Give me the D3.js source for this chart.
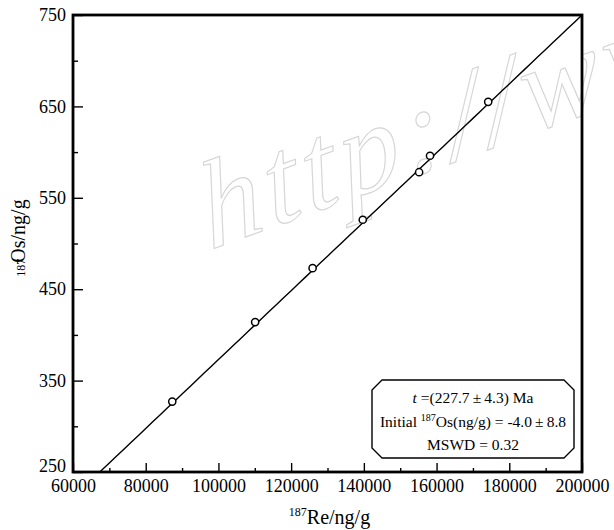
<!DOCTYPE html>
<html>
<head>
<meta charset="utf-8">
<script src="https://cdn.jsdelivr.net/npm/d3@7"></script>
<style>
    body { margin: 0; background: #fff; }
    svg text { font-family: "Liberation Serif", "Times New Roman", serif; }
</style>
</head>
<body>
<svg id="chart" width="614" height="530"></svg>
<script>
// measured samples: 187Re (ng/g) vs 187Os (ng/g)
const reValues = [87300, 110100, 125900, 139700, 155200, 158200, 174200];
const osValues = [327, 414, 473, 526, 578, 596, 655];

// isochron line
const lineSlope = 0.00377;
const lineIntercept = -4.0;

const xTicks = [60000, 80000, 100000, 120000, 140000, 160000, 180000, 200000];
const xMinor = [70000, 90000, 110000, 130000, 150000, 170000, 190000];
const yTicks = [250, 350, 450, 550, 650, 750];
const yMinor = [300, 400, 500, 600, 700];

const boxLines = ["=(227.7\u2009\u00B1\u20094.3) Ma", "MSWD = 0.32"];

const margin = { top: 15, right: 32, bottom: 58, left: 73 };
const width = 614 - margin.left - margin.right;
const height = 530 - margin.top - margin.bottom;

const svg = d3.select("#chart");

// watermark
svg.append("text")
    .attr("transform", "translate(210,250) rotate(-20) skewX(-8)")
    .attr("font-size", 122)
    .attr("font-style", "italic")
    .attr("letter-spacing", 6)
    .style("fill", "none")
    .style("stroke", "#d6d6d6")
    .style("stroke-width", 1.2)
    .text("http://www");

const x = d3.scaleLinear().domain([60000, 200000]).range([0, width]);
const y = d3.scaleLinear().domain([250, 750]).range([height, 0]);

const g = svg.append("g")
    .attr("transform", `translate(${margin.left},${margin.top})`);

// clip for the line
g.append("clipPath").attr("id", "clip")
    .append("rect").attr("width", width).attr("height", height);

// isochron
const lineData = d3.range(60000, 200001, 2000).map(d => [d, lineSlope * d + lineIntercept]);
g.append("path")
    .datum(lineData)
    .attr("clip-path", "url(#clip)")
    .attr("fill", "none")
    .attr("stroke", "#000")
    .attr("stroke-width", 1.4)
    .attr("d", d3.line().x(d => x(d[0])).y(d => y(d[1])));

// points
g.selectAll(".pt")
    .data(reValues)
    .enter()
    .append("circle")
    .attr("class", "pt")
    .attr("cx", d => x(d))
    .attr("cy", (d, i) => y(osValues[i]))
    .attr("r", 3.6)
    .style("fill", "#fff")
    .style("stroke", "#000")
    .style("stroke-width", 1.5);

// axes (ticks inward)
const xAxis = g.append("g")
    .attr("transform", `translate(0,${height})`)
    .call(d3.axisBottom(x).tickValues(xTicks).tickSize(-9).tickPadding(7).tickFormat(d3.format("d")));
const xMin = g.append("g")
    .attr("transform", `translate(0,${height})`)
    .call(d3.axisBottom(x).tickValues(xMinor).tickSize(-4).tickFormat(""));
const yAxis = g.append("g")
    .call(d3.axisLeft(y).tickValues(yTicks).tickSize(-10).tickPadding(7).tickFormat(d3.format("d")));
const yMin = g.append("g")
    .call(d3.axisLeft(y).tickValues(yMinor).tickSize(-5).tickFormat(""));

[xAxis, xMin, yAxis, yMin].forEach(a => {
    a.select(".domain").remove();
    a.selectAll(".tick line").attr("stroke", "#000").attr("stroke-width", 1.4);
    a.selectAll("text").attr("font-size", 18).attr("fill", "#000")
        .style("font-family", "'Liberation Serif', serif");
});

// lowest y label sits a little above the corner, as in the original
yAxis.selectAll(".tick text").filter(d => d === 250).attr("dy", "-0.05em");

// frame
g.append("rect")
    .attr("width", width)
    .attr("height", height)
    .attr("fill", "none")
    .attr("stroke", "#000")
    .attr("stroke-width", 2.8);

// axis titles
const xt = svg.append("text")
    .attr("x", margin.left + width / 2 + 2)
    .attr("y", 524)
    .attr("text-anchor", "middle")
    .attr("font-size", 20);
xt.append("tspan").attr("font-size", 12).attr("dy", -8).text("187");
xt.append("tspan").attr("dy", 8).text("Re/ng/g");

const yt = svg.append("text")
    .attr("transform", "translate(25,238) rotate(-90)")
    .attr("text-anchor", "middle")
    .attr("font-size", 20);
yt.append("tspan").attr("font-size", 12).text("187");
yt.append("tspan").attr("dx", -4).text("Os/ng/g");

// annotation box
const bx = 372, by = 380, bw = 202, bh = 78, r = 10;
svg.append("path")
    .attr("d", `M${bx + r},${by} H${bx + bw - r} L${bx + bw},${by + r} V${by + bh - r} L${bx + bw - r},${by + bh} H${bx + r} L${bx},${by + bh - r} V${by + r} Z`)
    .attr("fill", "#fff")
    .attr("stroke", "#000")
    .attr("stroke-width", 1.4)
    .attr("stroke-linejoin", "round");

const cx = bx + bw / 2;
const t1 = svg.append("text").attr("x", cx).attr("y", by + 23)
    .attr("text-anchor", "middle").attr("font-size", 15.5);
t1.append("tspan").attr("font-style", "italic").text("t ");
t1.append("tspan").text(boxLines[0]);

const t2 = svg.append("text").attr("x", cx).attr("y", by + 47)
    .attr("text-anchor", "middle").attr("font-size", 15.5);
t2.append("tspan").text("Initial ");
t2.append("tspan").attr("font-size", 10).attr("dy", -6).text("187");
t2.append("tspan").attr("dy", 6).text("Os(ng/g) = -4.0\u2009\u00B1\u20098.8");

svg.append("text").attr("x", cx).attr("y", by + 70)
    .attr("text-anchor", "middle").attr("font-size", 15.5)
    .text(boxLines[1]);
</script>
</body>
</html>
